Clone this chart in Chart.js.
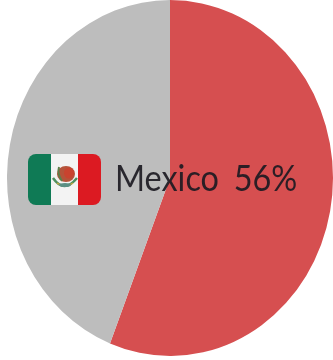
<!DOCTYPE html>
<html lang="en">
    <head>
        <meta charset="UTF-8" />
        <title>Mexico 56%</title>
        <script src="https://cdn.jsdelivr.net/npm/chart.js"></script>
        <style>
            html, body { margin: 0; padding: 0; background: #fff; overflow: hidden; }
            #wrap { position: relative; width: 333px; height: 360px; }
            #pie { position: absolute; left: 7px; top: 0; }
            #label {
                position: absolute; left: 115px; top: 156px;
                font: 36px/42px Lato, sans-serif;
                color: rgba(28, 26, 34, 0.92);
                white-space: pre;
                word-spacing: -1px;
                transform: scaleX(0.9);
                transform-origin: left center;
            }
            #flag { position: absolute; left: 28px; top: 154px; }
        </style>
    </head>
    <body>
        <div id="wrap">
            <canvas id="pie" width="326" height="356"></canvas>
            <svg id="flag" width="73" height="51" viewBox="0 0 73 51">
                <defs>
                    <clipPath id="round"><rect width="73" height="51" rx="8" /></clipPath>
                </defs>
                <g clip-path="url(#round)">
                    <rect width="23" height="51" fill="#0f7a55" />
                    <rect x="23" width="27" height="51" fill="#f3f3f3" />
                    <rect x="50" width="23" height="51" fill="#dc1a22" />
                </g>
                <!-- eagle and wreath -->
                <ellipse cx="38" cy="20" rx="9" ry="8" fill="#b5533a" />
                <ellipse cx="41" cy="19" rx="5" ry="5.5" fill="#c9432f" />
                <path d="M31 13 Q29 20 34 27" fill="none" stroke="#5d7f4a" stroke-width="2" />
                <path d="M25 24 Q36 40 49 24" fill="none" stroke="#4e8f5f" stroke-width="2.5" />
                <path d="M29 29 Q37 35 45 29" fill="none" stroke="#c9a63f" stroke-width="1.5" />
                <ellipse cx="37" cy="31" rx="6" ry="2" fill="#5b8f84" />
            </svg>
            <div id="label"></div>
        </div>

        <script>
            const categories = ["Mexico", "Other"];
            const shares = [56, 44];
            const sliceColors = ["#d64f50", "#bdbdbd"];

            document.getElementById("label").textContent =
                `${categories[0]}  ${shares[0]}%`;

            // The pie is a little taller than it is wide
            const stretch = {
                id: "stretch",
                beforeDatasetsDraw(chart) {
                    const { ctx, height } = chart;
                    ctx.save();
                    const k = height / chart.width;
                    ctx.translate(0, height / 2);
                    ctx.scale(1, k);
                    ctx.translate(0, -height / 2);
                },
                afterDatasetsDraw(chart) {
                    chart.ctx.restore();
                },
            };

            new Chart(document.getElementById("pie"), {
                type: "pie",
                data: {
                    labels: categories,
                    datasets: [
                        {
                            data: shares,
                            backgroundColor: sliceColors,
                            borderWidth: 0,
                        },
                    ],
                },
                options: {
                    responsive: false,
                    animation: false,
                    layout: { padding: 0 },
                    plugins: {
                        legend: { display: false },
                        tooltip: { enabled: false },
                    },
                },
                plugins: [stretch],
            });
        </script>
    </body>
</html>
